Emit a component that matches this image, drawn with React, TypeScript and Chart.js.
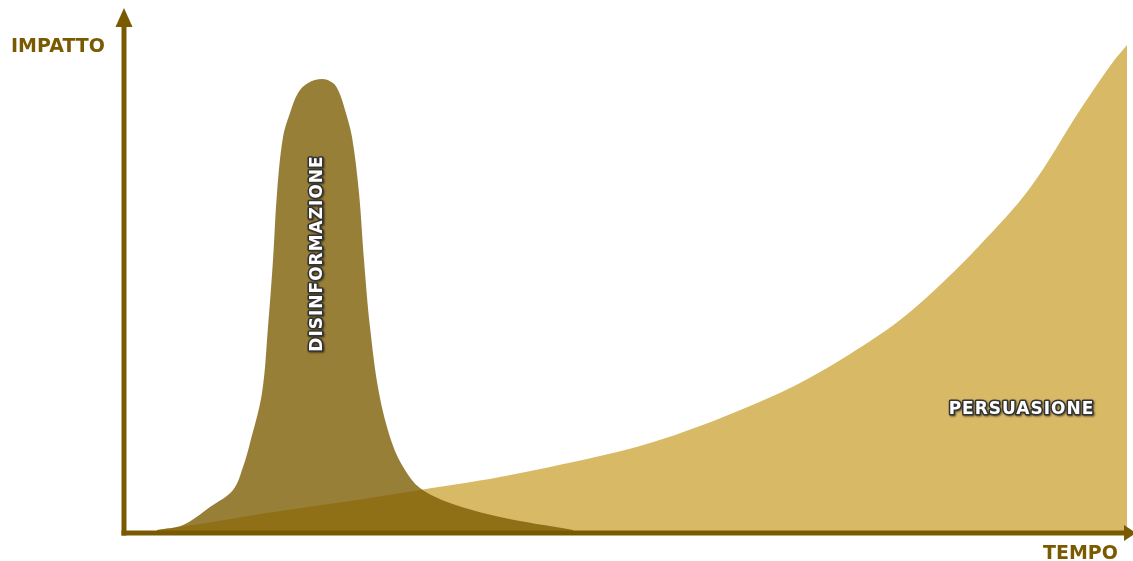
import React, { useEffect, useRef } from "react";
import { Chart, registerables } from "chart.js";

Chart.register(...registerables);

// Time (x) and impact (y) samples
const disinfoX = [33, 59, 86, 109, 119, 126, 138, 144, 149, 153, 159, 166, 174, 184, 198, 209, 215, 221, 228, 235, 240, 246, 255, 268, 281, 296, 326, 376, 449];
const disinfoY = [1, 6, 24, 41, 64, 88, 138, 204, 271, 338, 394, 418, 438, 448, 452, 448, 439, 421, 394, 338, 271, 204, 138, 88, 61, 43, 28, 14, 1];

const persuasX = [33, 76, 143, 226, 296, 376, 476, 526, 576, 626, 676, 726, 776, 816, 856, 906, 956, 989, 1003];
const persuasY = [1, 7, 18, 30, 41, 54, 75, 88, 105, 125, 148, 177, 211, 246, 286, 343, 421, 469, 486];

const seriesLabels = ["DISINFORMAZIONE", "PERSUASIONE"];
const axisTitles = { y: "IMPATTO", x: "TEMPO" };

const AXIS_COLOR = "#7a5a00";

export default function App() {
  const ref = useRef<HTMLCanvasElement | null>(null);

  useEffect(() => {
    document.body.style.margin = "0";
    const canvas = ref.current;
    if (!canvas) return;

    const decor = {
      id: "decor",
      afterDatasetsDraw(chart: any) {
        const ctx = chart.ctx as CanvasRenderingContext2D;
        const xs = chart.scales.x;
        const ys = chart.scales.y;
        const x0 = xs.getPixelForValue(0);
        const y0 = ys.getPixelForValue(0);
        ctx.save();
        // axes
        ctx.strokeStyle = AXIS_COLOR;
        ctx.fillStyle = AXIS_COLOR;
        ctx.lineWidth = 5;
        ctx.lineCap = "butt";
        ctx.beginPath();
        ctx.moveTo(x0, y0 + 4.5);
        ctx.lineTo(x0, 25);
        ctx.stroke();
        ctx.beginPath();
        ctx.moveTo(x0 - 2.5, y0 + 2);
        ctx.lineTo(1125, y0 + 2);
        ctx.stroke();
        // arrow heads
        ctx.beginPath();
        ctx.moveTo(x0, 8);
        ctx.lineTo(x0 - 8.5, 27);
        ctx.lineTo(x0 + 8.5, 27);
        ctx.closePath();
        ctx.fill();
        ctx.beginPath();
        ctx.moveTo(1136, y0 + 2);
        ctx.lineTo(1124, y0 + 2 - 8);
        ctx.lineTo(1124, y0 + 2 + 8);
        ctx.closePath();
        ctx.fill();

        // axis titles
        ctx.font = "bold 19px 'DejaVu Sans'";
        ctx.textBaseline = "alphabetic";
        ctx.textAlign = "left";
        ctx.fillText(axisTitles.y, 11, 52);
        ctx.fillText(axisTitles.x, 1043, 559);

        // series labels
        const drawLabel = (text: string, cx: number, cy: number, rot: number) => {
          ctx.save();
          ctx.translate(cx, cy);
          ctx.rotate(rot);
          ctx.font = "bold 17px 'DejaVu Sans'";
          (ctx as any).letterSpacing = "1px";
          ctx.textAlign = "center";
          ctx.textBaseline = "middle";
          ctx.lineJoin = "round";
          ctx.shadowColor = "rgba(0,0,0,0.55)";
          ctx.shadowBlur = 2;
          ctx.shadowOffsetX = 1;
          ctx.shadowOffsetY = 1;
          ctx.strokeStyle = "#333333";
          ctx.lineWidth = 3;
          ctx.strokeText(text, 0.5, 0);
          ctx.shadowColor = "transparent";
          ctx.fillStyle = "#ffffff";
          ctx.fillText(text, 0.5, 0);
          ctx.restore();
        };
        drawLabel(seriesLabels[0], 318, 254, -Math.PI / 2);
        drawLabel(seriesLabels[1], 1021, 410, 0);
        ctx.restore();
      },
    };

    const chart = new Chart(canvas, {
      type: "line",
      data: {
        datasets: [
          {
            label: seriesLabels[0],
            data: disinfoX.map((x, i) => ({ x, y: disinfoY[i] })),
            backgroundColor: "rgba(123,91,0,0.78)",
            borderWidth: 0,
            pointRadius: 0,
            fill: "origin",
            tension: 0.35,
            order: 0,
          },
          {
            label: seriesLabels[1],
            data: persuasX.map((x, i) => ({ x, y: persuasY[i] })),
            backgroundColor: "#d8b966",
            borderWidth: 0,
            pointRadius: 0,
            fill: "origin",
            tension: 0.35,
            order: 1,
          },
        ],
      },
      options: {
        animation: false,
        responsive: false,
        layout: { padding: { left: 124, right: 6, top: 30, bottom: 30 } },
        plugins: { legend: { display: false }, tooltip: { enabled: false } },
        scales: {
          x: { type: "linear", min: 0, max: 1003, display: false },
          y: { type: "linear", min: 0, max: 501, display: false },
        },
      },
      plugins: [decor],
    });
    return () => chart.destroy();
  }, []);

  return (
    <div style={{ width: 1133, height: 561, background: "#fff" }}>
      <canvas ref={ref} width={1133} height={561} />
    </div>
  );
}
